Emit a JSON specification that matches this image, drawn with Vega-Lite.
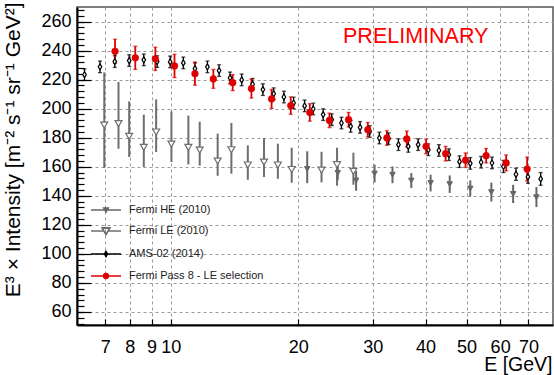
{
  "$schema": "https://vega.github.io/schema/vega-lite/v6.json",
  "width": 476,
  "height": 318,
  "autosize": {"type": "none"},
  "padding": {"left": 77, "top": 7, "right": 1, "bottom": 50},
  "background": "white",
  "config": {
    "view": {"stroke": "#555555", "strokeWidth": 1.5},
    "font": "Liberation Sans"
  },
  "datasets": {
    "d": [
      {"series": "AMS-02 (2014)", "E": 6.25, "v": 223.4, "lo": 219.4, "hi": 227.4},
      {"series": "AMS-02 (2014)", "E": 6.8, "v": 228.8, "lo": 224.8, "hi": 232.8},
      {"series": "AMS-02 (2014)", "E": 7.37, "v": 232.4, "lo": 228.4, "hi": 236.4},
      {"series": "AMS-02 (2014)", "E": 7.97, "v": 233.1, "lo": 229.1, "hi": 237.1},
      {"series": "AMS-02 (2014)", "E": 8.63, "v": 233.6, "lo": 229.6, "hi": 237.6},
      {"series": "AMS-02 (2014)", "E": 9.28, "v": 232.4, "lo": 228.4, "hi": 236.4},
      {"series": "AMS-02 (2014)", "E": 9.96, "v": 232.2, "lo": 228.2, "hi": 236.2},
      {"series": "AMS-02 (2014)", "E": 10.7, "v": 231.5, "lo": 227.5, "hi": 235.5},
      {"series": "AMS-02 (2014)", "E": 11.4, "v": 227.6, "lo": 223.6, "hi": 231.6},
      {"series": "AMS-02 (2014)", "E": 12.2, "v": 228.8, "lo": 224.8, "hi": 232.8},
      {"series": "AMS-02 (2014)", "E": 13.0, "v": 226.2, "lo": 222.2, "hi": 230.2},
      {"series": "AMS-02 (2014)", "E": 13.8, "v": 221.2, "lo": 217.2, "hi": 225.2},
      {"series": "AMS-02 (2014)", "E": 14.7, "v": 219.8, "lo": 215.8, "hi": 223.8},
      {"series": "AMS-02 (2014)", "E": 15.6, "v": 216.8, "lo": 212.8, "hi": 220.8},
      {"series": "AMS-02 (2014)", "E": 16.5, "v": 213.1, "lo": 209.1, "hi": 217.1},
      {"series": "AMS-02 (2014)", "E": 17.5, "v": 210.3, "lo": 206.3, "hi": 214.3},
      {"series": "AMS-02 (2014)", "E": 18.5, "v": 208.0, "lo": 204.0, "hi": 212.0},
      {"series": "AMS-02 (2014)", "E": 19.5, "v": 203.9, "lo": 199.9, "hi": 207.9},
      {"series": "AMS-02 (2014)", "E": 20.7, "v": 201.9, "lo": 197.9, "hi": 205.9},
      {"series": "AMS-02 (2014)", "E": 21.7, "v": 199.8, "lo": 195.8, "hi": 203.8},
      {"series": "AMS-02 (2014)", "E": 22.9, "v": 195.9, "lo": 191.9, "hi": 199.9},
      {"series": "AMS-02 (2014)", "E": 24.0, "v": 192.4, "lo": 188.4, "hi": 196.4},
      {"series": "AMS-02 (2014)", "E": 25.3, "v": 190.1, "lo": 186.1, "hi": 194.1},
      {"series": "AMS-02 (2014)", "E": 26.6, "v": 187.8, "lo": 183.8, "hi": 191.8},
      {"series": "AMS-02 (2014)", "E": 28.0, "v": 187.1, "lo": 183.1, "hi": 191.1},
      {"series": "AMS-02 (2014)", "E": 29.5, "v": 184.3, "lo": 180.3, "hi": 188.3},
      {"series": "AMS-02 (2014)", "E": 31.1, "v": 179.8, "lo": 175.8, "hi": 183.8},
      {"series": "AMS-02 (2014)", "E": 32.7, "v": 179.3, "lo": 175.3, "hi": 183.3},
      {"series": "AMS-02 (2014)", "E": 34.5, "v": 175.2, "lo": 171.2, "hi": 179.2},
      {"series": "AMS-02 (2014)", "E": 36.4, "v": 174.0, "lo": 170.0, "hi": 178.0},
      {"series": "AMS-02 (2014)", "E": 38.4, "v": 175.2, "lo": 171.2, "hi": 179.2},
      {"series": "AMS-02 (2014)", "E": 40.6, "v": 171.7, "lo": 167.7, "hi": 175.7},
      {"series": "AMS-02 (2014)", "E": 43.0, "v": 171.2, "lo": 167.2, "hi": 175.2},
      {"series": "AMS-02 (2014)", "E": 45.4, "v": 168.3, "lo": 164.3, "hi": 172.3},
      {"series": "AMS-02 (2014)", "E": 48.1, "v": 163.5, "lo": 159.5, "hi": 167.5},
      {"series": "AMS-02 (2014)", "E": 51.0, "v": 162.3, "lo": 158.3, "hi": 166.3},
      {"series": "AMS-02 (2014)", "E": 54.1, "v": 163.1, "lo": 159.1, "hi": 167.1},
      {"series": "AMS-02 (2014)", "E": 57.4, "v": 162.6, "lo": 158.6, "hi": 166.6},
      {"series": "AMS-02 (2014)", "E": 61.1, "v": 160.2, "lo": 156.0, "hi": 164.4},
      {"series": "AMS-02 (2014)", "E": 65.4, "v": 154.8, "lo": 150.6, "hi": 159.0},
      {"series": "AMS-02 (2014)", "E": 69.8, "v": 153.0, "lo": 148.6, "hi": 157.4},
      {"series": "AMS-02 (2014)", "E": 74.8, "v": 151.6, "lo": 147.2, "hi": 156.0},
      {"series": "Fermi Pass 8 - LE selection", "E": 7.38, "v": 239.5, "lo": 231.2, "hi": 247.8},
      {"series": "Fermi Pass 8 - LE selection", "E": 8.24, "v": 235.0, "lo": 227.0, "hi": 243.0},
      {"series": "Fermi Pass 8 - LE selection", "E": 9.19, "v": 234.3, "lo": 226.3, "hi": 242.3},
      {"series": "Fermi Pass 8 - LE selection", "E": 10.2, "v": 229.4, "lo": 221.4, "hi": 237.4},
      {"series": "Fermi Pass 8 - LE selection", "E": 11.4, "v": 224.1, "lo": 216.1, "hi": 232.1},
      {"series": "Fermi Pass 8 - LE selection", "E": 12.6, "v": 220.5, "lo": 214.0, "hi": 227.0},
      {"series": "Fermi Pass 8 - LE selection", "E": 14.0, "v": 217.9, "lo": 212.4, "hi": 223.4},
      {"series": "Fermi Pass 8 - LE selection", "E": 15.5, "v": 213.8, "lo": 207.3, "hi": 220.3},
      {"series": "Fermi Pass 8 - LE selection", "E": 17.3, "v": 206.7, "lo": 200.2, "hi": 213.2},
      {"series": "Fermi Pass 8 - LE selection", "E": 19.2, "v": 202.1, "lo": 196.1, "hi": 208.1},
      {"series": "Fermi Pass 8 - LE selection", "E": 21.3, "v": 197.4, "lo": 191.4, "hi": 203.4},
      {"series": "Fermi Pass 8 - LE selection", "E": 23.7, "v": 191.9, "lo": 186.9, "hi": 196.9},
      {"series": "Fermi Pass 8 - LE selection", "E": 26.3, "v": 192.4, "lo": 187.4, "hi": 197.4},
      {"series": "Fermi Pass 8 - LE selection", "E": 29.2, "v": 185.5, "lo": 180.5, "hi": 190.5},
      {"series": "Fermi Pass 8 - LE selection", "E": 32.4, "v": 179.8, "lo": 174.8, "hi": 184.8},
      {"series": "Fermi Pass 8 - LE selection", "E": 36.1, "v": 179.1, "lo": 173.6, "hi": 184.6},
      {"series": "Fermi Pass 8 - LE selection", "E": 40.1, "v": 174.0, "lo": 169.0, "hi": 179.0},
      {"series": "Fermi Pass 8 - LE selection", "E": 44.6, "v": 169.0, "lo": 164.0, "hi": 174.0},
      {"series": "Fermi Pass 8 - LE selection", "E": 49.7, "v": 164.5, "lo": 159.5, "hi": 169.5},
      {"series": "Fermi Pass 8 - LE selection", "E": 55.6, "v": 167.6, "lo": 162.6, "hi": 172.6},
      {"series": "Fermi Pass 8 - LE selection", "E": 62.0, "v": 162.6, "lo": 157.1, "hi": 168.1},
      {"series": "Fermi Pass 8 - LE selection", "E": 69.5, "v": 158.4, "lo": 150.1, "hi": 166.7},
      {"series": "Fermi LE (2010)", "E": 6.96, "v": 188.7, "lo": 159.1, "hi": 225.0},
      {"series": "Fermi LE (2010)", "E": 7.52, "v": 189.7, "lo": 172.4, "hi": 218.4},
      {"series": "Fermi LE (2010)", "E": 7.97, "v": 180.9, "lo": 166.7, "hi": 205.0},
      {"series": "Fermi LE (2010)", "E": 8.63, "v": 173.3, "lo": 159.8, "hi": 195.9},
      {"series": "Fermi LE (2010)", "E": 9.23, "v": 183.9, "lo": 170.1, "hi": 206.4},
      {"series": "Fermi LE (2010)", "E": 10.03, "v": 175.6, "lo": 163.2, "hi": 198.1},
      {"series": "Fermi LE (2010)", "E": 11.0, "v": 173.3, "lo": 161.6, "hi": 195.2},
      {"series": "Fermi LE (2010)", "E": 11.7, "v": 171.5, "lo": 160.8, "hi": 191.0},
      {"series": "Fermi LE (2010)", "E": 12.9, "v": 163.9, "lo": 153.8, "hi": 182.8},
      {"series": "Fermi LE (2010)", "E": 13.9, "v": 171.7, "lo": 155.2, "hi": 190.1},
      {"series": "Fermi LE (2010)", "E": 15.2, "v": 161.2, "lo": 151.0, "hi": 174.7},
      {"series": "Fermi LE (2010)", "E": 16.6, "v": 163.2, "lo": 152.9, "hi": 179.8},
      {"series": "Fermi LE (2010)", "E": 17.9, "v": 161.2, "lo": 151.7, "hi": 175.9},
      {"series": "Fermi LE (2010)", "E": 19.3, "v": 158.1, "lo": 149.0, "hi": 173.1},
      {"series": "Fermi LE (2010)", "E": 22.7, "v": 157.7, "lo": 149.2, "hi": 170.3},
      {"series": "Fermi LE (2010)", "E": 24.7, "v": 161.4, "lo": 146.9, "hi": 173.1},
      {"series": "Fermi LE (2010)", "E": 27.0, "v": 156.8, "lo": 147.6, "hi": 169.7},
      {"series": "Fermi HE (2010)", "E": 21.0, "v": 158.5, "lo": 148.7, "hi": 170.6},
      {"series": "Fermi HE (2010)", "E": 24.8, "v": 155.7, "lo": 151.0, "hi": 161.0},
      {"series": "Fermi HE (2010)", "E": 27.4, "v": 150.6, "lo": 143.5, "hi": 157.0},
      {"series": "Fermi HE (2010)", "E": 30.3, "v": 155.3, "lo": 149.2, "hi": 161.4},
      {"series": "Fermi HE (2010)", "E": 33.4, "v": 154.5, "lo": 148.7, "hi": 160.2},
      {"series": "Fermi HE (2010)", "E": 37.0, "v": 150.5, "lo": 145.3, "hi": 155.6},
      {"series": "Fermi HE (2010)", "E": 41.1, "v": 148.8, "lo": 143.0, "hi": 154.5},
      {"series": "Fermi HE (2010)", "E": 45.6, "v": 148.0, "lo": 142.0, "hi": 154.0},
      {"series": "Fermi HE (2010)", "E": 51.0, "v": 145.0, "lo": 139.5, "hi": 150.6},
      {"series": "Fermi HE (2010)", "E": 57.2, "v": 142.5, "lo": 136.0, "hi": 149.0},
      {"series": "Fermi HE (2010)", "E": 64.4, "v": 141.3, "lo": 135.0, "hi": 147.6},
      {"series": "Fermi HE (2010)", "E": 73.1, "v": 139.0, "lo": 132.2, "hi": 146.0}
    ]
  },
  "data": {"name": "d"},
  "resolve": {"axis": {"y": "independent"}},
  "layer": [
    {
      "transform": [{"filter": "datum.series == 'Fermi HE (2010)' || datum.series == 'Fermi LE (2010)'"}],
      "mark": {"type": "rule", "strokeWidth": 2},
      "encoding": {
        "x": {
          "field": "E", "type": "quantitative",
          "scale": {"type": "log", "domain": [6, 80], "nice": false, "zero": false},
          "axis": {
            "values": [7, 8, 9, 10, 20, 30, 40, 50, 60, 70],
            "format": "d",
            "tickSize": -6, "tickColor": "black", "tickWidth": 1.2,
            "domainColor": "black", "domainWidth": 2,
            "grid": true, "gridDash": [3, 3], "gridColor": "#9a9a9a", "gridWidth": 1,
            "labelFont": "Liberation Sans", "labelFontSize": 18, "labelColor": "black",
            "labelPadding": 19, "labelFlush": false, "labelOverlap": false,
            "title": "E [GeV]",
            "titleFont": "Liberation Sans", "titleFontSize": 19.5, "titleFontWeight": "normal", "titleColor": "black",
            "titleAnchor": "end", "titleAlign": "right", "titleBaseline": "alphabetic",
            "titleX": 475, "titleY": 45
          }
        },
        "y": {
          "field": "lo", "type": "quantitative",
          "scale": {"domain": [51, 270], "nice": false, "zero": false},
          "axis": {
            "orient": "left",
            "values": [52, 56, 60, 64, 68, 72, 76, 80, 84, 88, 92, 96, 100, 104, 108, 112, 116, 120, 124, 128, 132, 136, 140, 144, 148, 152, 156, 160, 164, 168, 172, 176, 180, 184, 188, 192, 196, 200, 204, 208, 212, 216, 220, 224, 228, 232, 236, 240, 244, 248, 252, 256, 260, 264, 268],
            "tickSize": -7, "tickColor": "black", "tickWidth": 1.2,
            "labels": false, "domain": false, "grid": false, "title": null
          }
        },
        "y2": {"field": "hi"},
        "color": {
          "field": "series", "type": "nominal",
          "scale": {
            "domain": ["Fermi HE (2010)", "Fermi LE (2010)", "AMS-02 (2014)", "Fermi Pass 8 - LE selection"],
            "range": ["#666666", "#6e6e6e", "#000000", "#dd0000"]
          },
          "legend": {
            "orient": "none", "legendX": 23, "legendY": 197,
            "title": null, "padding": 0,
            "symbolSize": 100, "symbolStrokeWidth": 1.3,
            "labelOffset": 17, "rowPadding": 10,
            "labelFont": "Liberation Sans", "labelFontSize": 11, "labelColor": "#222222",
            "encode": {
              "symbols": {
                "update": {
                  "shape": {"signal": "datum.value == 'Fermi HE (2010)' ? 'M-3,0H3M-0.5,-0.4H0.5L0,0.45Z' : datum.value == 'Fermi LE (2010)' ? 'M-3,0H-0.4M0.4,0H3M-0.85,-0.65L0.85,-0.65L0,0.8ZM-0.68,-0.553L0,0.607L0.68,-0.553Z' : datum.value == 'AMS-02 (2014)' ? 'M-3,0H3M0,-0.55L0.33,0L0,0.55L-0.33,0ZM0,-0.3L-0.15,0L0,0.3L0.15,0Z' : 'M-3,0H3M-0.5,0A0.5,0.5,0,1,0,0.5,0A0.5,0.5,0,1,0,-0.5,0Z'"},
                  "opacity": {"value": 1}
                }
              }
            }
          }
        }
      }
    },
    {
      "transform": [{"filter": "datum.series == 'AMS-02 (2014)'"}],
      "mark": {"type": "rule", "strokeWidth": 1.3},
      "encoding": {
        "x": {"field": "E", "type": "quantitative"},
        "y": {"field": "lo", "type": "quantitative", "axis": null},
        "y2": {"field": "hi"},
        "color": {"field": "series", "type": "nominal"}
      }
    },
    {
      "transform": [{"filter": "datum.series == 'Fermi Pass 8 - LE selection'"}],
      "mark": {"type": "rule", "strokeWidth": 1.8},
      "encoding": {
        "x": {"field": "E", "type": "quantitative"},
        "y": {"field": "lo", "type": "quantitative", "axis": null},
        "y2": {"field": "hi"},
        "color": {"field": "series", "type": "nominal"}
      }
    },
    {
      "transform": [{"filter": "datum.series == 'AMS-02 (2014)' || datum.series == 'Fermi Pass 8 - LE selection'"}],
      "mark": {"type": "tick", "orient": "horizontal", "size": 4, "thickness": 1.3},
      "encoding": {
        "x": {"field": "E", "type": "quantitative"},
        "y": {"field": "lo", "type": "quantitative", "axis": null},
        "color": {"field": "series", "type": "nominal"}
      }
    },
    {
      "transform": [{"filter": "datum.series == 'AMS-02 (2014)' || datum.series == 'Fermi Pass 8 - LE selection'"}],
      "mark": {"type": "tick", "orient": "horizontal", "size": 4, "thickness": 1.3},
      "encoding": {
        "x": {"field": "E", "type": "quantitative"},
        "y": {"field": "hi", "type": "quantitative", "axis": null},
        "color": {"field": "series", "type": "nominal"}
      }
    },
    {
      "transform": [{"filter": "datum.series == 'Fermi HE (2010)'"}],
      "mark": {"type": "point", "shape": "triangle-down", "size": 30, "filled": true, "fill": "#666666", "stroke": "#666666", "strokeWidth": 1, "opacity": 1},
      "encoding": {
        "x": {"field": "E", "type": "quantitative"},
        "y": {
          "field": "v", "type": "quantitative",
          "axis": {
            "orient": "left",
            "values": [60, 80, 100, 120, 140, 160, 180, 200, 220, 240, 260],
            "tickSize": -14, "tickColor": "black", "tickWidth": 1.2,
            "domainColor": "black", "domainWidth": 2,
            "grid": true, "gridDash": [3, 3], "gridColor": "#9a9a9a", "gridWidth": 1,
            "labelFont": "Liberation Sans", "labelFontSize": 18, "labelColor": "black",
            "labelPadding": 20, "labelFlush": false, "labelOverlap": false,
            "title": "E³ × Intensity [m⁻² s⁻¹ sr⁻¹ GeV²]",
            "titleFont": "Liberation Sans", "titleFontSize": 21, "titleFontWeight": "normal", "titleColor": "black",
            "titleAngle": -90, "titleAnchor": "end", "titleAlign": "right", "titleBaseline": "alphabetic",
            "titleX": -58, "titleY": -5
          }
        }
      }
    },
    {
      "transform": [{"filter": "datum.series == 'Fermi LE (2010)'"}],
      "mark": {"type": "point", "shape": "triangle-down", "size": 48, "filled": true, "fill": "#ffffff", "stroke": "#6e6e6e", "strokeWidth": 1.2, "opacity": 1},
      "encoding": {
        "x": {"field": "E", "type": "quantitative"},
        "y": {"field": "v", "type": "quantitative", "axis": null}
      }
    },
    {
      "transform": [{"filter": "datum.series == 'AMS-02 (2014)'"}],
      "mark": {"type": "point", "shape": "M0,-1L0.6,0L0,1L-0.6,0Z", "size": 36, "filled": true, "fill": "#ffffff", "stroke": "#000000", "strokeWidth": 1.2, "opacity": 1},
      "encoding": {
        "x": {"field": "E", "type": "quantitative"},
        "y": {"field": "v", "type": "quantitative", "axis": null}
      }
    },
    {
      "transform": [{"filter": "datum.series == 'Fermi Pass 8 - LE selection'"}],
      "mark": {"type": "point", "shape": "circle", "size": 46, "filled": true, "fill": "#dd0000", "stroke": "#dd0000", "strokeWidth": 0.5, "opacity": 1},
      "encoding": {
        "x": {"field": "E", "type": "quantitative"},
        "y": {"field": "v", "type": "quantitative", "axis": null}
      }
    },
    {
      "data": {"values": [{"label": "PRELIMINARY"}]},
      "mark": {"type": "text", "font": "Liberation Sans", "fontSize": 21.5, "color": "#ff0000", "align": "center", "baseline": "alphabetic"},
      "encoding": {
        "x": {"datum": 37.9, "type": "quantitative"},
        "y": {"datum": 245.3, "type": "quantitative", "axis": null},
        "text": {"field": "label"}
      }
    }
  ]
}
